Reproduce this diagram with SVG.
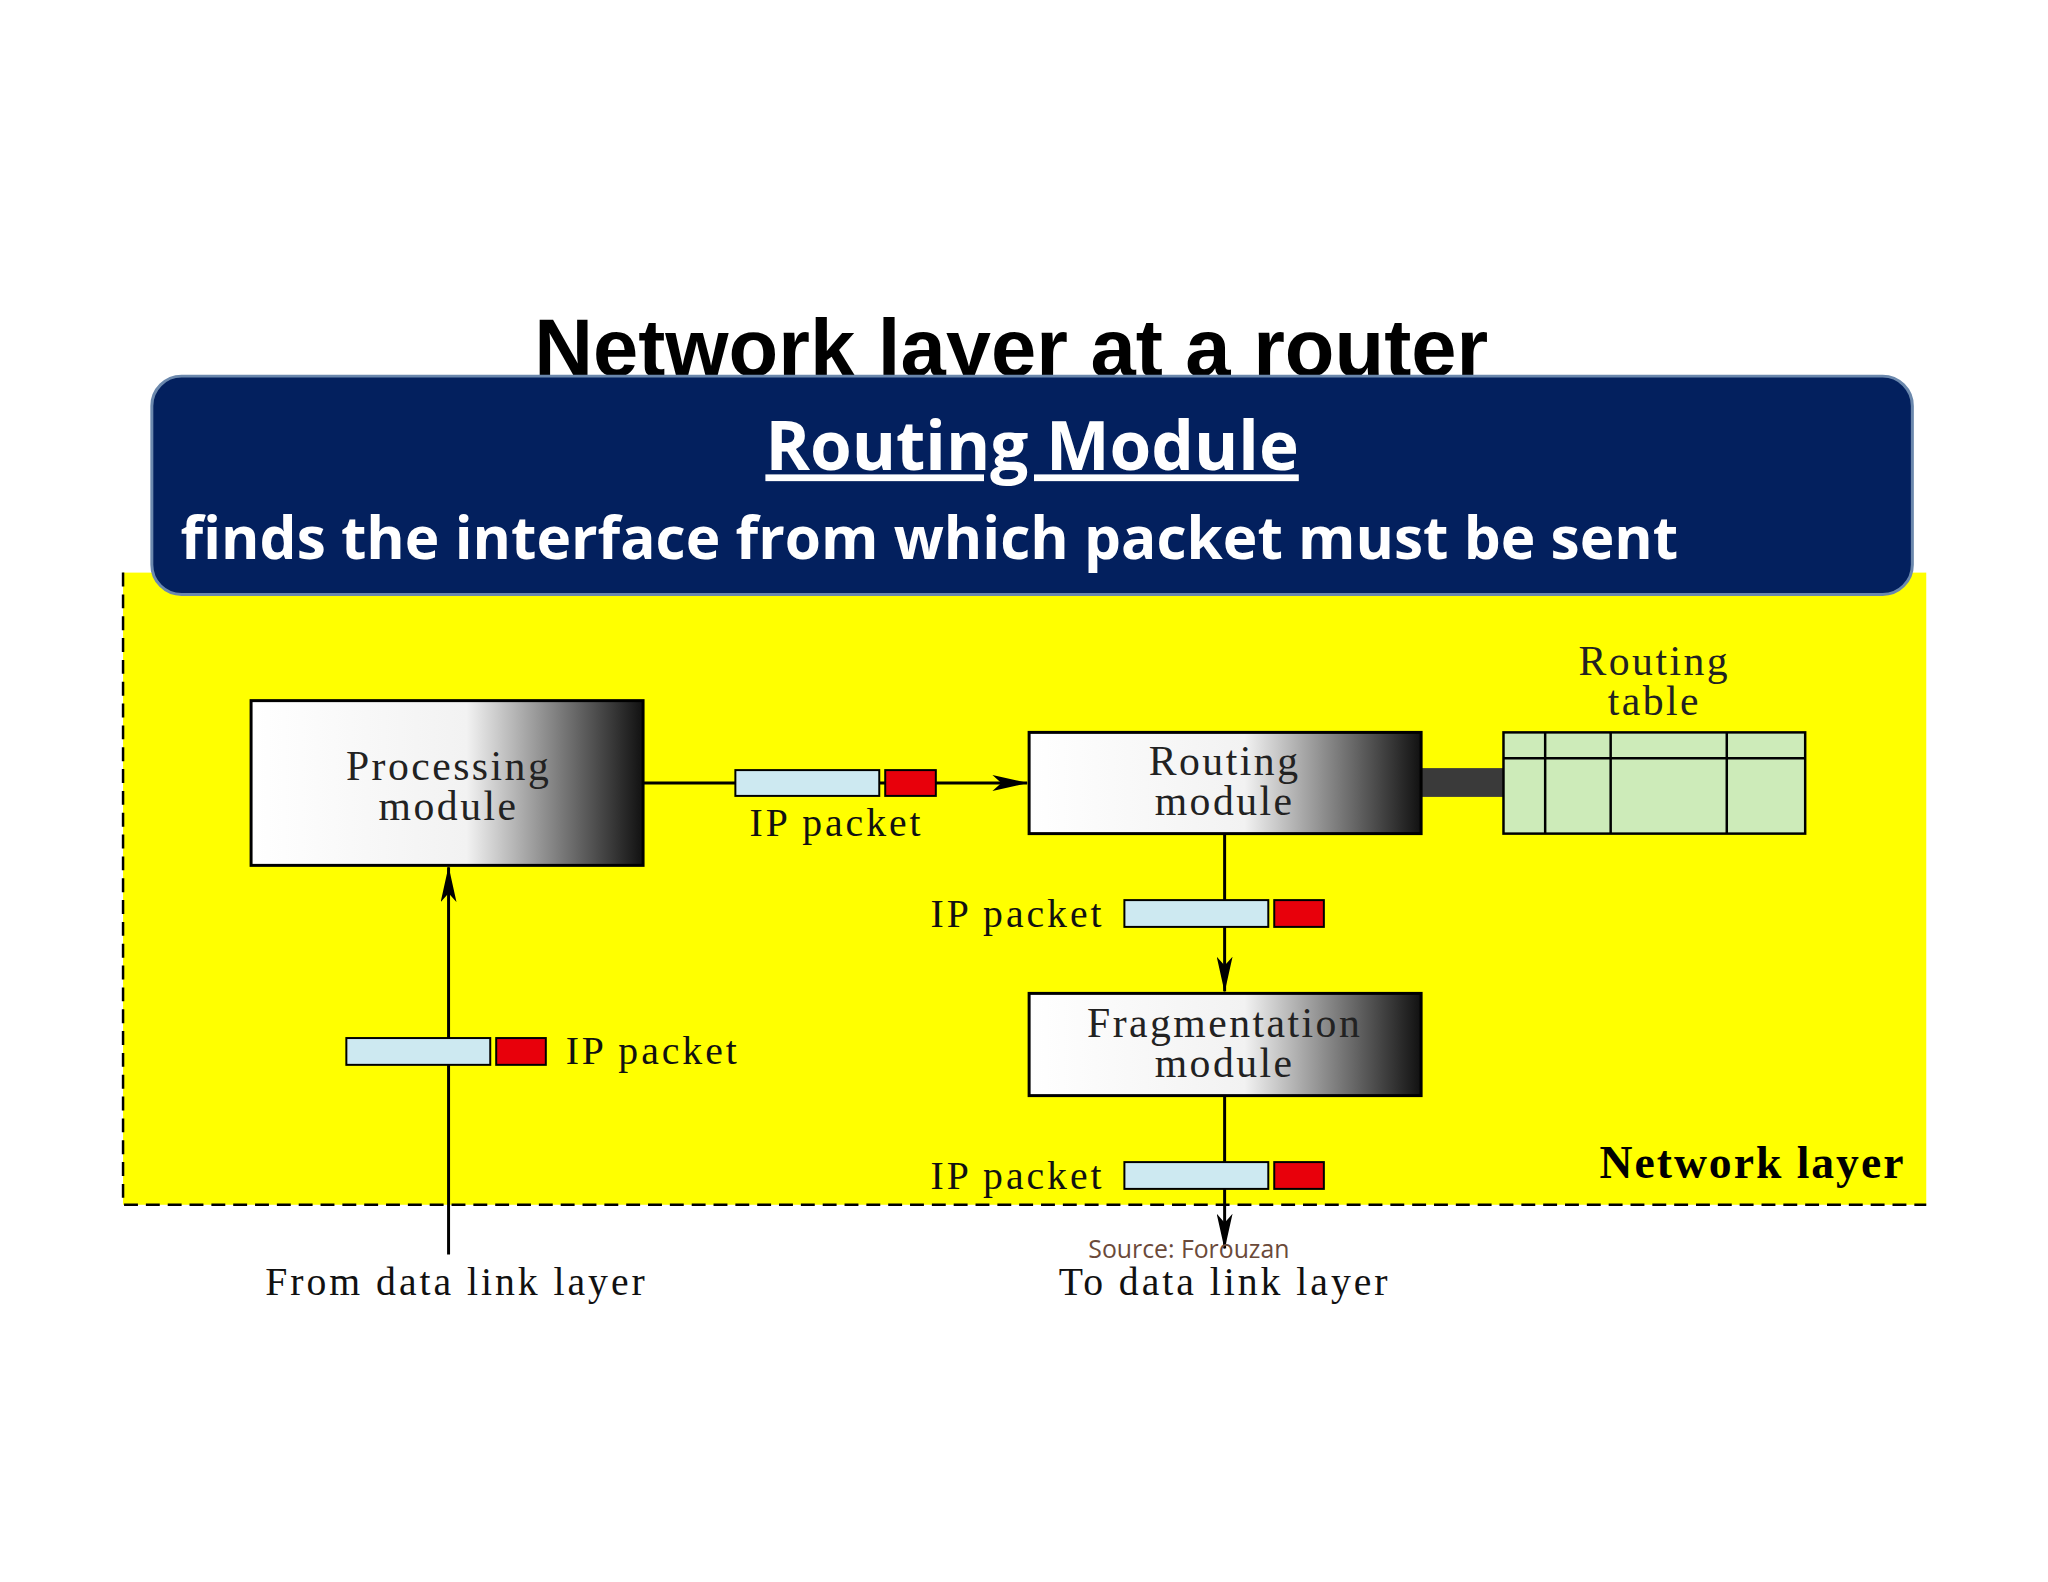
<svg xmlns="http://www.w3.org/2000/svg" width="2048" height="1582" viewBox="0 0 2048 1582">
<defs>
<linearGradient id="g" x1="0" x2="1" y1="0" y2="0"><stop offset="0" stop-color="#fff"/><stop offset="0.55" stop-color="#f2f2f2"/><stop offset="1" stop-color="#111"/></linearGradient>
<marker id="a" markerWidth="16" markerHeight="30" refX="8" refY="29" orient="auto-start-reverse" markerUnits="userSpaceOnUse" viewBox="0 0 16 30"><path d="M0,0 L8,30 L16,0 L8,8 Z" fill="#000" transform="rotate(0)"/></marker>
<marker id="b" markerWidth="36" markerHeight="16" refX="35" refY="8" orient="auto" markerUnits="userSpaceOnUse"><path d="M0,0 L36,8 L0,16 L9,8 Z" fill="#000"/></marker>
<style>
.m{fill:url(#g);stroke:#000;stroke-width:3}
.t{font-family:"Liberation Serif",serif;font-size:42px;letter-spacing:2.5px;fill:#222;text-anchor:middle}
.l{font-family:"Liberation Serif",serif;font-size:40px;letter-spacing:3px;fill:#111}
.pb{fill:#cde9f1;stroke:#000;stroke-width:2}
.pr{fill:#e8000b;stroke:#000;stroke-width:2}
.c{stroke:#000;stroke-width:3;fill:none}
</style>
</defs>
<rect width="2048" height="1582" fill="#fff"/>
<g transform="scale(0.9924)">
<rect x="124" y="577" width="1817" height="637" fill="#ffff00"/>
<path d="M124,577 V1214 H1941" fill="none" stroke="#000" stroke-width="2.5" stroke-dasharray="14,8"/>
<text x="1019" y="379" font-family="Liberation Sans,sans-serif" font-weight="bold" font-size="82" text-anchor="middle">Network layer at a router</text>
<g id="banner">
<rect x="153" y="379" width="1774" height="220" rx="30" fill="#03205e" stroke="#6b88ad" stroke-width="3"/>
<text x="1040" y="474" font-family="Open Sans,sans-serif" font-weight="bold" font-size="68" fill="#fff" text-anchor="middle" text-decoration="underline">Routing Module</text>
<text x="182" y="563" font-family="Open Sans,sans-serif" font-weight="bold" font-size="59" fill="#fff">finds the interface from which packet must be sent</text>
</g>
<g id="connectors">
<line class="c" x1="648" y1="789" x2="1035" y2="789" marker-end="url(#b)"/>
<line class="c" x1="452" y1="1264" x2="452" y2="874" marker-end="url(#b)"/>
<line class="c" x1="1234" y1="840" x2="1234" y2="999" marker-end="url(#b)"/>
<line class="c" x1="1234" y1="1104" x2="1234" y2="1258" marker-end="url(#b)"/>
<rect x="1432" y="774" width="83" height="29" fill="#3a3a3a"/>
</g>
<g id="processing"><rect class="m" x="253" y="706" width="395" height="166"/><text class="t" x="452" y="786">Processing</text><text class="t" x="452" y="826">module</text></g>
<g id="routing"><rect class="m" x="1037" y="738" width="395" height="102"/><text class="t" x="1234" y="781">Routing</text><text class="t" x="1234" y="821">module</text></g>
<g id="fragmentation"><rect class="m" x="1037" y="1001" width="395" height="103"/><text class="t" x="1234" y="1045">Fragmentation</text><text class="t" x="1234" y="1085">module</text></g>
<g id="table">
<text class="t" x="1667" y="680">Routing</text><text class="t" x="1667" y="720">table</text>
<rect x="1515" y="738" width="304" height="102" fill="#cdebb9" stroke="#000" stroke-width="2.5"/>
<path d="M1515,764 H1819 M1557,738 V840 M1623,738 V840 M1740,738 V840" stroke="#000" stroke-width="2.5"/>
</g>
<g id="pkt1"><rect class="pb" x="741" y="776" width="145" height="26"/><rect class="pr" x="892" y="776" width="51" height="26"/><text class="l" x="843" y="842" text-anchor="middle">IP packet</text></g>
<g id="pkt2"><rect class="pb" x="349" y="1046" width="145" height="27"/><rect class="pr" x="500" y="1046" width="50" height="27"/><text class="l" x="570" y="1072">IP packet</text></g>
<g id="pkt3"><rect class="pb" x="1133" y="907" width="145" height="27"/><rect class="pr" x="1284" y="907" width="50" height="27"/><text class="l" x="1113" y="934" text-anchor="end">IP packet</text></g>
<g id="pkt4"><rect class="pb" x="1133" y="1171" width="145" height="27"/><rect class="pr" x="1284" y="1171" width="50" height="27"/><text class="l" x="1113" y="1198" text-anchor="end">IP packet</text></g>
<text x="1920" y="1187" font-family="Liberation Serif,serif" font-weight="bold" font-size="46" letter-spacing="2" text-anchor="end">Network layer</text>
<text x="1198" y="1268" font-family="Open Sans,sans-serif" font-size="25" fill="#6b4a3a" text-anchor="middle">Source: Forouzan</text>
<text class="l" x="460" y="1305" text-anchor="middle">From data link layer</text>
<text class="l" x="1234" y="1305" text-anchor="middle">To data link layer</text>
</g>
</svg>
